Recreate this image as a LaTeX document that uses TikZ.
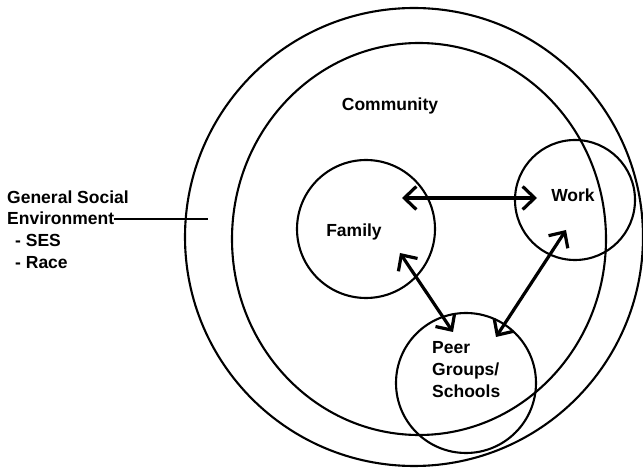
\documentclass[tikz,border=0pt]{standalone}
\usepackage{fontspec}
\setmainfont{Liberation Sans}
\usetikzlibrary{arrows.meta,shapes.geometric}
\tikzset{
  ring/.style={draw, line width=2.1pt, inner sep=0pt},
  txt/.style={inner sep=0pt, font=\bfseries\fontsize{17.5}{21}\selectfont},
  link/.style={line width=3.2pt, {Straight Barb[length=12pt,width=23pt]}-{Straight Barb[length=12pt,width=23pt]}},
}

\begin{document}
\begin{tikzpicture} [x=1pt, y=-1pt]
\useasboundingbox (0,0) rectangle (643,470);
% the rings
\node[ring, circle, minimum size=458pt] (society) at (414,237) {};
\node[ring, ellipse, minimum width=374pt, minimum height=392pt] (community) at (419,239) {};
\node[ring, circle, minimum size=138pt] (family) at (366,229) {};
\node[ring, circle, minimum size=120pt] (work) at (575,200) {};
\node[ring, circle, minimum size=140pt] (peer) at (466,383) {};
% texts
\node[txt, anchor=base] (commtxt) at (390,111) {Community};
\node[txt, anchor=base] (famtxt) at (354,237) {Family};
\node[txt, anchor=base] (worktxt) at (573,202) {Work};
\node[txt, anchor=base west] (peer1) at (432,354) {Peer};
\node[txt, anchor=base west] (peer2) at (432,376) {Groups/};
\node[txt, anchor=base west] (peer3) at (432,398) {Schools};
\node[txt, anchor=base west] (gen) at (7,204) {General Social};
\node[txt, anchor=base west] (env) at (7,225) {Environment};
\node[txt, anchor=base west] (ses) at (15,247) {- SES};
\node[txt, anchor=base west] (race) at (15,269) {- Race};
\coordinate (tick) at (208,219);
\draw[line width=2pt] (env.east) -- (env.east -| tick);
% arrows
\coordinate (fw1) at (402,198);
\coordinate (fw2) at (537,198);
\coordinate (fp1) at (400,253);
\coordinate (fp2) at (453,332);
\coordinate (wp1) at (566,230);
\coordinate (wp2) at (496,337);
\draw[link] (fw1) -- (fw2);
\draw[link] (fp1) -- (fp2);
\draw[link] (wp1) -- (wp2);
\end{tikzpicture}
\end{document}
